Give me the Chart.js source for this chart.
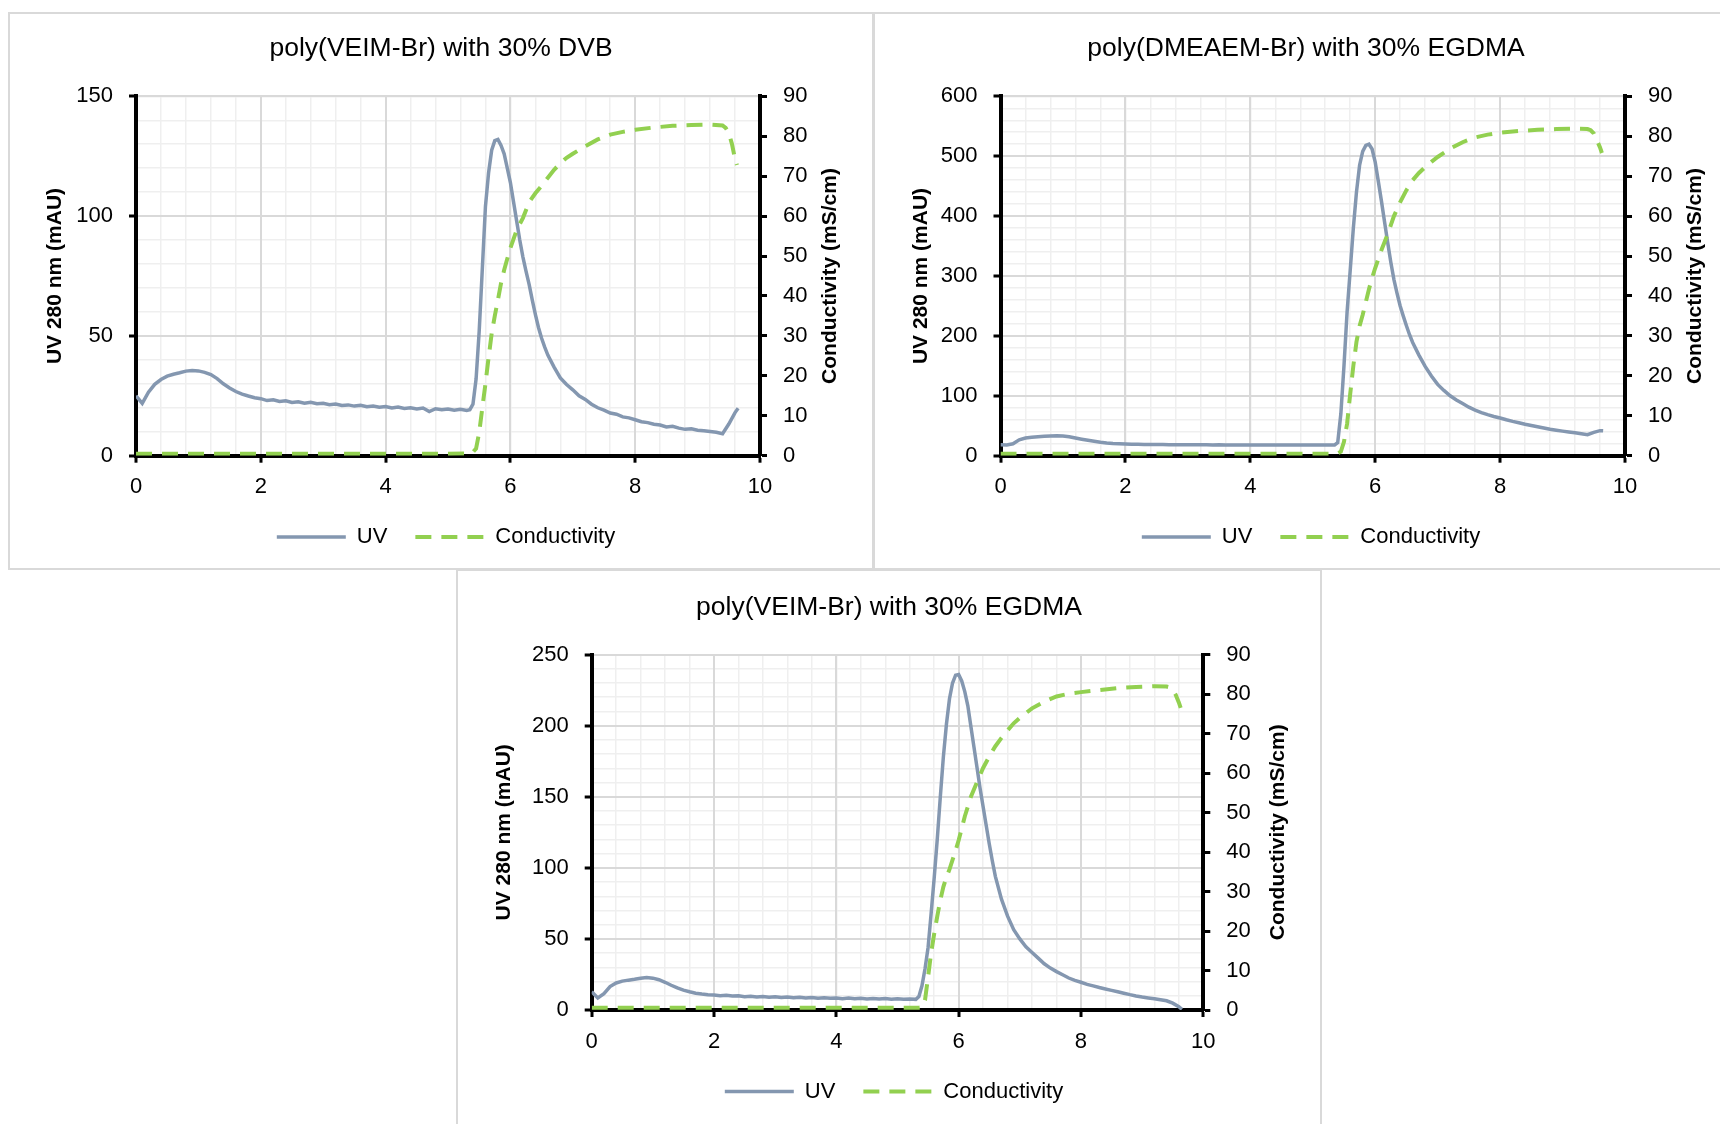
<!DOCTYPE html>
<html>
<head>
<meta charset="utf-8">
<title>UV and conductivity elution profiles</title>
<script src="https://cdn.jsdelivr.net/npm/chart.js@4.4.0/dist/chart.umd.min.js"></script>
<style>
    html, body { margin: 0; padding: 0; background: #fff; }
    body { width: 1720px; height: 1124px; position: relative; overflow: hidden; }
    .panel { position: absolute; box-sizing: border-box; width: 866px; height: 558px; border: 2px solid #d9d9d9; background: #fff; }
    .panel canvas { display: block; }
    #panelDvb { left: 8px; top: 12px; }
    #panelDmeaem { left: 873px; top: 12px; }
    #panelEgdma { left: 456px; top: 569px; }
</style>
</head>
<body>
<div class="panel" id="panelDvb"><canvas id="chartDvb" width="862" height="554"></canvas></div>
<div class="panel" id="panelDmeaem"><canvas id="chartDmeaem" width="862" height="554"></canvas></div>
<div class="panel" id="panelEgdma"><canvas id="chartEgdma" width="862" height="554"></canvas></div>

<script>
// Elution time (min) of the UV readings
const uvTime = [
    0, 0.1, 0.2, 0.3, 0.4, 0.5, 0.6, 0.7, 0.8, 0.9,
    1.0, 1.1, 1.2, 1.3, 1.4, 1.5, 1.6, 1.7, 1.8, 1.9,
    2.0, 2.1, 2.2, 2.3, 2.4, 2.5, 2.6, 2.7, 2.8, 2.9,
    3.0, 3.1, 3.2, 3.3, 3.4, 3.5, 3.6, 3.7, 3.8, 3.9,
    4.0, 4.1, 4.2, 4.3, 4.4, 4.5, 4.6, 4.7, 4.8, 4.9,
    5.0, 5.1, 5.2, 5.3,
    5.35, 5.4, 5.45, 5.5, 5.55, 5.6, 5.65, 5.7, 5.75, 5.8, 5.85, 5.9, 5.95,
    6.0, 6.05, 6.1, 6.15, 6.2, 6.25, 6.3, 6.35, 6.4, 6.45, 6.5, 6.55, 6.6,
    6.7, 6.8, 6.9, 7.0, 7.1, 7.2, 7.3, 7.4, 7.5, 7.6, 7.7, 7.8, 7.9,
    8.0, 8.1, 8.2, 8.3, 8.4, 8.5, 8.6, 8.7, 8.8, 8.9,
    9.0, 9.1, 9.2, 9.3, 9.4, 9.5, 9.6, 9.65
];

// Elution time (min) of the conductivity readings
const condTime = [
    0, 1, 2, 3, 4, 5,
    5.35, 5.4, 5.45, 5.5, 5.55, 5.6, 5.65, 5.7, 5.75, 5.8, 5.85, 5.9, 5.95,
    6.0, 6.1, 6.2, 6.3, 6.4, 6.5, 6.6, 6.7, 6.8, 6.9,
    7.0, 7.2, 7.4, 7.6, 7.8,
    8.0, 8.3, 8.6, 8.9, 9.2,
    9.4, 9.45, 9.5, 9.55, 9.6, 9.63
];

// poly(VEIM-Br) with 30% DVB
const uvDvb = [
    25.0, 21.8, 26.5, 29.8, 31.8, 33.2, 34.0, 34.6, 35.3, 35.6,
    35.4, 34.8, 33.9, 32.2, 30.0, 28.3, 26.8, 25.7, 24.9, 24.2,
    23.8, 23.0, 23.3, 22.6, 22.9, 22.2, 22.5, 21.9, 22.3, 21.7,
    21.9, 21.3, 21.6, 21.0, 21.2, 20.7, 21.0, 20.4, 20.7, 20.2,
    20.5, 19.9, 20.3, 19.7, 20.0, 19.5, 19.9, 18.4, 19.6, 19.2,
    19.5, 19.0, 19.4, 18.9,
    19.2, 21.5, 32, 52, 78, 104, 118, 127.5, 131.5, 132, 129.5, 126, 120,
    114, 106, 98, 90, 83, 77, 71.5, 65, 59, 53.5, 49, 45.3, 42,
    37, 32.5, 29.7, 27.5, 25.0, 23.5, 21.5, 20.0, 19.0, 17.8, 17.3, 16.2, 15.8,
    15.0, 14.2, 13.8, 13.1, 12.8, 12.0, 12.3, 11.5, 11.0, 11.2,
    10.6, 10.4, 10.1, 9.8, 9.2, 13.2, 18.0, 19.8
];
const condDvb = [
    0.5, 0.5, 0.5, 0.5, 0.5, 0.5,
    0.6, 0.9, 1.8, 5.8, 12, 18, 24.5, 30.6, 35, 39, 43.2, 46.5, 49.3,
    52, 56.5, 59.5, 63.5, 65.7, 67.6, 69.6, 71.6, 73.2, 74.6,
    75.6, 77.5, 79.2, 80.4, 81.1,
    81.6, 82.2, 82.6, 82.8, 82.9,
    82.7, 82.1, 80.8, 78.1, 74.3, 72.8
];

// poly(DMEAEM-Br) with 30% EGDMA
const uvDmeaem = [
    18.3, 18.0, 20.0, 26.5, 29.5, 30.8, 31.8, 32.5, 33.0, 33.3,
    33.0, 31.5, 29.5, 27.6, 25.8, 24.2, 22.5, 21.2, 20.3, 19.8,
    19.4, 19.2, 19.0, 18.9, 18.7, 18.5, 18.6, 18.4, 18.3, 18.4,
    18.2, 18.3, 18.1, 18.2, 18.0, 18.1, 17.9, 18.0, 17.9, 18.0,
    17.8, 17.9, 17.8, 17.9, 17.7, 17.8, 17.8, 17.7, 17.8, 17.7,
    17.8, 17.7, 17.8, 17.8,
    18.0, 22, 70, 150, 240, 310, 380, 440, 485, 508, 518, 520, 512,
    490, 458, 425, 390, 356, 323, 294, 271, 250, 233, 217, 202, 189,
    168, 149, 133, 119, 109, 100, 93, 87, 81, 76, 72, 68.5, 65.5,
    63, 60, 57.3, 55, 52.5, 50.3, 48.3, 46.3, 44.3, 42.6,
    41.0, 39.5, 38.2, 36.8, 35.2, 39.0, 41.8, 41.5
];
const condDmeaem = [
    0.5, 0.5, 0.5, 0.5, 0.5, 0.5,
    0.5, 0.6, 1.0, 3.5, 8, 15.5, 22.5, 28.5, 32.5, 35.3, 38.5, 41.7, 44.5,
    47, 51.5, 55.5, 60, 63.5, 66.5, 69, 70.8, 72.3, 73.6,
    74.8, 76.9, 78.5, 79.7, 80.4,
    80.9, 81.3, 81.6, 81.8, 81.9,
    81.8, 81.5, 80.7, 79.0, 77.2, 75.8
];

// poly(VEIM-Br) with 30% EGDMA
const uvEgdma = [
    12.9, 8.5, 11.5, 16.5, 19.0, 20.3, 21.0, 21.6, 22.3, 22.9,
    22.4, 21.3, 19.5, 17.4, 15.5, 14.0, 12.8, 11.8, 11.2, 10.7,
    10.5, 10.1, 10.3, 9.8, 10.0, 9.4, 9.7, 9.2, 9.5, 9.0,
    9.3, 8.8, 9.1, 8.7, 8.9, 8.4, 8.8, 8.3, 8.6, 8.2,
    8.5, 8.0, 8.4, 7.9, 8.2, 7.8, 8.1, 7.7, 8.0, 7.5,
    7.9, 7.6, 7.8, 7.5,
    9.5, 17, 29, 44, 68, 93, 120, 150, 178, 201, 219, 230, 235.5,
    236, 231.5, 224, 214, 199.5, 185, 170.5, 156, 143, 130, 117, 105, 94,
    78, 66, 56.5, 50, 44.5, 40.5, 36.5, 32.5, 29.5, 27, 24.8, 22.5, 20.8,
    19.5, 18.0, 17.0, 15.8, 14.8, 13.8, 12.8, 11.8, 10.8, 9.9,
    9.1, 8.5, 7.9, 7.2, 6.5, 4.8, 2.3, 0.5
];
const condEgdma = [
    0.6, 0.6, 0.6, 0.6, 0.6, 0.6,
    0.6, 0.7, 2.5, 8.4, 14.5, 19.3, 23.7, 27.8, 31.2, 33.6, 35.6, 38, 40.4,
    43, 49, 54, 57.7, 61.3, 64.2, 66.8, 68.9, 70.8, 72.6,
    74, 76.4, 78.1, 79.4, 80.1,
    80.5, 81.0, 81.5, 81.8, 82.0,
    81.9, 81.7, 81.0, 79.8, 77.9, 76.5
];

const UV_COLOR = '#8497b0';
const COND_COLOR = '#92d050';
const FONT = "'Liberation Sans', Arial, Helvetica, sans-serif";

Chart.defaults.font.family = FONT;
Chart.defaults.color = '#000';

// right-hand axis title, written bottom-to-top like the left one
const rightAxisTitle = {
    id: 'rightAxisTitle',
    afterDraw(chart, args, opts) {
        const scale = chart.scales.y2;
        const area = chart.chartArea;
        const ctx = chart.ctx;
        ctx.save();
        ctx.font = 'bold 21px ' + FONT;
        ctx.fillStyle = '#000';
        ctx.textAlign = 'center';
        ctx.textBaseline = 'middle';
        ctx.translate(scale.right - opts.offset, (area.top + area.bottom) / 2);
        ctx.rotate(-Math.PI / 2);
        ctx.fillText(opts.text, 0, 0);
        ctx.restore();
    }
};

// nudge the legend row a little to the right
const legendShift = {
    id: 'legendShift',
    afterLayout(chart, args, opts) {
        chart.legend.left += opts.dx;
        chart.legend.right += opts.dx;
    }
};

function toPoints(times, values) {
    return times.map((t, i) => ({ x: t, y: values[i] }));
}

function makeChart(canvasId, cfg) {
    const g = cfg.layout;
    const tickFont = { size: 22 };

    new Chart(document.getElementById(canvasId), {
        type: 'line',
        data: {
            datasets: [{
                label: 'UV',
                data: toPoints(uvTime, cfg.uv),
                yAxisID: 'y',
                borderColor: UV_COLOR,
                borderWidth: 3.5,
                pointRadius: 0,
                tension: 0,
                order: 1
            }, {
                label: 'Conductivity',
                data: toPoints(condTime, cfg.cond),
                yAxisID: 'y2',
                borderColor: COND_COLOR,
                borderWidth: 4,
                borderDash: [16, 10],
                pointRadius: 0,
                tension: 0,
                order: 0
            }]
        },
        options: {
            responsive: false,
            animation: false,
            events: [],
            layout: { padding: { left: 0, right: 0, top: 0, bottom: g.padBottom } },
            plugins: {
                title: {
                    display: true,
                    text: cfg.title,
                    color: '#000',
                    font: { size: 26.5, weight: 'normal' },
                    padding: { top: g.titleTop, bottom: g.titleBottom }
                },
                legend: {
                    position: 'bottom',
                    labels: {
                        usePointStyle: true,
                        pointStyle: 'line',
                        pointStyleWidth: 69,
                        color: '#000',
                        font: { size: 22 },
                        padding: 28,
                        sort: (a, b) => a.datasetIndex - b.datasetIndex,
                        generateLabels(chart) {
                            const items = Chart.defaults.plugins.legend.labels.generateLabels(chart);
                            return items.map(item => {
                                const ds = chart.data.datasets[item.datasetIndex];
                                return Object.assign(item, {
                                    lineWidth: ds.borderWidth,
                                    lineDash: ds.borderDash || [],
                                    strokeStyle: ds.borderColor
                                });
                            });
                        }
                    }
                },
                tooltip: { enabled: false },
                rightAxisTitle: { text: 'Conductivity (mS/cm)', offset: 42 },
                legendShift: { dx: 5 }
            },
            scales: {
                x: {
                    type: 'linear',
                    position: 'bottom',
                    min: 0,
                    max: 10,
                    ticks: { stepSize: 2, color: '#000', font: tickFont, padding: g.xTickPad, maxRotation: 0 },
                    grid: { color: '#d9d9d9', lineWidth: 2, tickColor: '#000', tickLength: 7, tickWidth: 3 },
                    border: { color: '#000', width: 4 },
                    afterFit: s => { s.height = g.xHeight; }
                },
                // minor gridlines every 0.4 min
                xMinor: {
                    type: 'linear',
                    position: 'bottom',
                    min: 0,
                    max: 10,
                    ticks: { display: false, stepSize: 0.4 },
                    grid: { color: '#efefef', lineWidth: 1.5, drawTicks: false, z: -2 },
                    border: { display: false },
                    afterFit: s => { s.height = 0; }
                },
                y: {
                    type: 'linear',
                    position: 'left',
                    min: 0,
                    max: cfg.uvMax,
                    ticks: { stepSize: cfg.uvStep, color: '#000', font: tickFont, padding: 16 },
                    title: {
                        display: true,
                        text: 'UV 280 nm (mAU)',
                        color: '#000',
                        font: { size: 21, weight: 'bold' },
                        padding: { top: g.leftTitlePad, bottom: 0 }
                    },
                    grid: { color: '#d9d9d9', lineWidth: 2, tickColor: '#000', tickLength: 7, tickWidth: 3 },
                    border: { color: '#000', width: 4 },
                    afterFit: s => { s.width = g.left; }
                },
                yMinor: {
                    type: 'linear',
                    position: 'left',
                    min: 0,
                    max: cfg.uvMax,
                    ticks: { display: false, stepSize: cfg.uvMinor },
                    grid: { color: '#efefef', lineWidth: 1.5, drawTicks: false, z: -2 },
                    border: { display: false },
                    afterFit: s => { s.width = 0; }
                },
                y2: {
                    type: 'linear',
                    position: 'right',
                    min: 0,
                    max: 90,
                    ticks: { stepSize: 10, color: '#000', font: tickFont, padding: 16 },
                    grid: { drawOnChartArea: false, tickColor: '#000', tickLength: 7, tickWidth: 3 },
                    border: { color: '#000', width: 4 },
                    afterFit: s => { s.width = g.right; }
                }
            }
        },
        plugins: [rightAxisTitle, legendShift]
    });
}

makeChart('chartDvb', {
    title: 'poly(VEIM-Br) with 30% DVB',
    uv: uvDvb, cond: condDvb,
    uvMax: 150, uvStep: 50, uvMinor: 10,
    layout: { left: 126, right: 112, titleTop: 18.4, titleBottom: 32.1, xTickPad: 11, xHeight: 42.4, padBottom: 9.9, leftTitlePad: 32.5 }
});

makeChart('chartDmeaem', {
    title: 'poly(DMEAEM-Br) with 30% EGDMA',
    uv: uvDmeaem, cond: condDmeaem,
    uvMax: 600, uvStep: 100, uvMinor: 20,
    layout: { left: 125.5, right: 112, titleTop: 18.4, titleBottom: 32.1, xTickPad: 11, xHeight: 42.4, padBottom: 9.9, leftTitlePad: 33.5 }
});

makeChart('chartEgdma', {
    title: 'poly(VEIM-Br) with 30% EGDMA',
    uv: uvEgdma, cond: condEgdma,
    uvMax: 250, uvStep: 50, uvMinor: 10,
    layout: { left: 133.7, right: 116.7, titleTop: 20.4, titleBottom: 31.4, xTickPad: 12, xHeight: 42.5, padBottom: 12.5, leftTitlePad: 34 }
});
</script>
</body>
</html>
